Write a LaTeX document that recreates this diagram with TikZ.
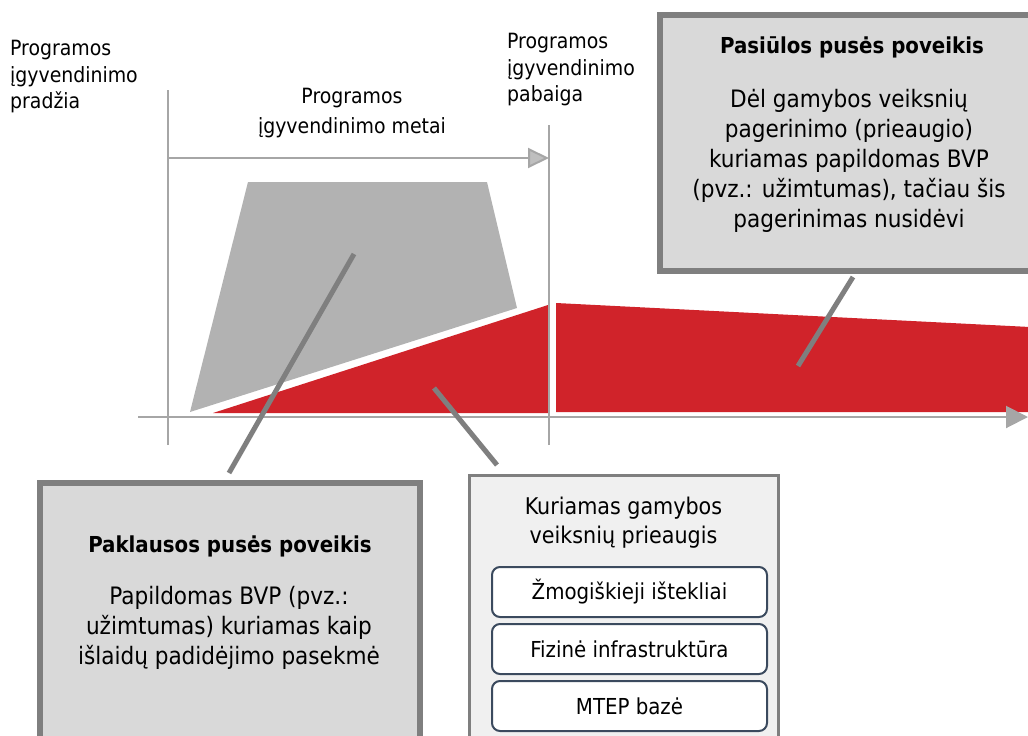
\documentclass[tikz,border=0pt]{standalone}
\usepackage{fontspec}
\setmainfont{DejaVu Sans Condensed}
\usetikzlibrary{arrows.meta, positioning}
\definecolor{effectred}{HTML}{D0232A}
\definecolor{spendgrey}{HTML}{B2B2B2}
\definecolor{boxfill}{HTML}{D9D9D9}
\definecolor{panelfill}{HTML}{F0F0F0}
\definecolor{edgegrey}{HTML}{7F7F7F}
\definecolor{axisgrey}{HTML}{A6A6A6}
\definecolor{tipgrey}{HTML}{BFBFBF}
\definecolor{itemline}{HTML}{3B4A5E}

\begin{document}
\begin{tikzpicture}[x=1pt, y=-1pt,
		texts/.style = {text=black, font=\fontsize{24}{30}\selectfont, inner sep=0pt},
		labeltexts/.style = {text=black, font=\fontsize{21}{26.5}\selectfont, inner sep=0pt},
		titletexts/.style = {texts, font=\fontsize{22}{30}\selectfont\bfseries},
		axisline/.style = {draw=axisgrey, line width=2pt},
		effectbox/.style = {draw=edgegrey, fill=boxfill, line width=6pt},
		panelbox/.style = {draw=edgegrey, fill=panelfill, line width=3pt},
		itembox/.style = {texts, font=\fontsize{22}{28}\selectfont, draw=itemline, fill=white,
			line width=2pt, rounded corners=8pt, minimum width=275pt, minimum height=50pt},
		pointer/.style = {draw=edgegrey, line width=5pt}
		]
		\clip (0,0) rectangle (1028,736);

		% chart areas
		\fill[spendgrey] (248,182) -- (487,182) -- (517,308) -- (190,412) -- cycle;
		\fill[effectred] (213,413) -- (548,305) -- (548,413) -- cycle;
		\fill[effectred] (556,303) -- (1030,327) -- (1030,412) -- (556,412) -- cycle;

		% axes
		\coordinate (startlow) at (168,445);
		\coordinate (starttop) at (168,90);
		\coordinate (endlow) at (549,445);
		\coordinate (endtop) at (549,125);
		\coordinate (axisleft) at (138,417);
		\coordinate (axisright) at (1028,417);
		\coordinate (spanend) at (549,158);
		\draw[axisline] (startlow) -- (starttop);
		\draw[axisline] (endlow) -- (endtop);
		\draw[axisline, -{Triangle[length=22pt, width=22pt, fill=axisgrey]}] (axisleft) -- (axisright);
		\draw[axisline, -{Triangle[length=21pt, width=20pt, fill=tipgrey]}] (startlow |- spanend) -- (spanend);

		% axis labels
		\node [labeltexts, anchor=west, align=left] (startlabel) at (10,77) {Programos\\įgyvendinimo\\pradžia};
		\node [labeltexts, anchor=west, align=left] (endlabel) at (507,70) {Programos\\įgyvendinimo\\pabaiga};
		\node [labeltexts, align=center, font=\fontsize{21}{30}\selectfont] (spanlabel) at (352,113) {Programos\\įgyvendinimo metai};

		% supply side box
		\draw[effectbox] (660,15) rectangle (1045,271);
		\coordinate (supplytop) at (852,15);
		\node [titletexts, below = 22pt of supplytop] (supplytitle) {Pasiūlos pusės poveikis};
		\node [texts, align=center] (supplytext) at (849,161)
			{Dėl gamybos veiksnių\\pagerinimo (prieaugio)\\kuriamas papildomas BVP\\(pvz.: užimtumas), tačiau šis\\pagerinimas nusidėvi};

		% demand side box
		\draw[effectbox] (40,483) rectangle (420,760);
		\coordinate (demandtop) at (230,483);
		\node [titletexts, below = 53pt of demandtop] (demandtitle) {Paklausos pusės poveikis};
		\node [texts, align=center] (demandtext) at (229,628)
			{Papildomas BVP (pvz.:\\užimtumas) kuriamas kaip\\išlaidų padidėjimo pasekmė};

		% factor growth panel
		\draw[panelbox] (469,475) rectangle (778,760);
		\node [texts, align=center, font=\fontsize{23}{29}\selectfont] (paneltitle) at (623.5,523) {Kuriamas gamybos\\veiksnių prieaugis};
		\node [itembox] (human) at (629.5,592) {Žmogiškieji ištekliai};
		\node [itembox, below = 5pt of human] (physical) {Fizinė infrastruktūra};
		\node [itembox, below = 5pt of physical] (research) {MTEP bazė};

		% pointers
		\coordinate (spendpoint) at (354,254);
		\coordinate (demandpoint) at (229,473);
		\coordinate (growthpoint) at (434,388);
		\coordinate (panelpoint) at (497,465);
		\coordinate (supplypoint) at (853,277);
		\coordinate (effectpoint) at (798,366);
		\draw[pointer] (spendpoint) -- (demandpoint);
		\draw[pointer] (growthpoint) -- (panelpoint);
		\draw[pointer] (supplypoint) -- (effectpoint);
\end{tikzpicture}
\end{document}
